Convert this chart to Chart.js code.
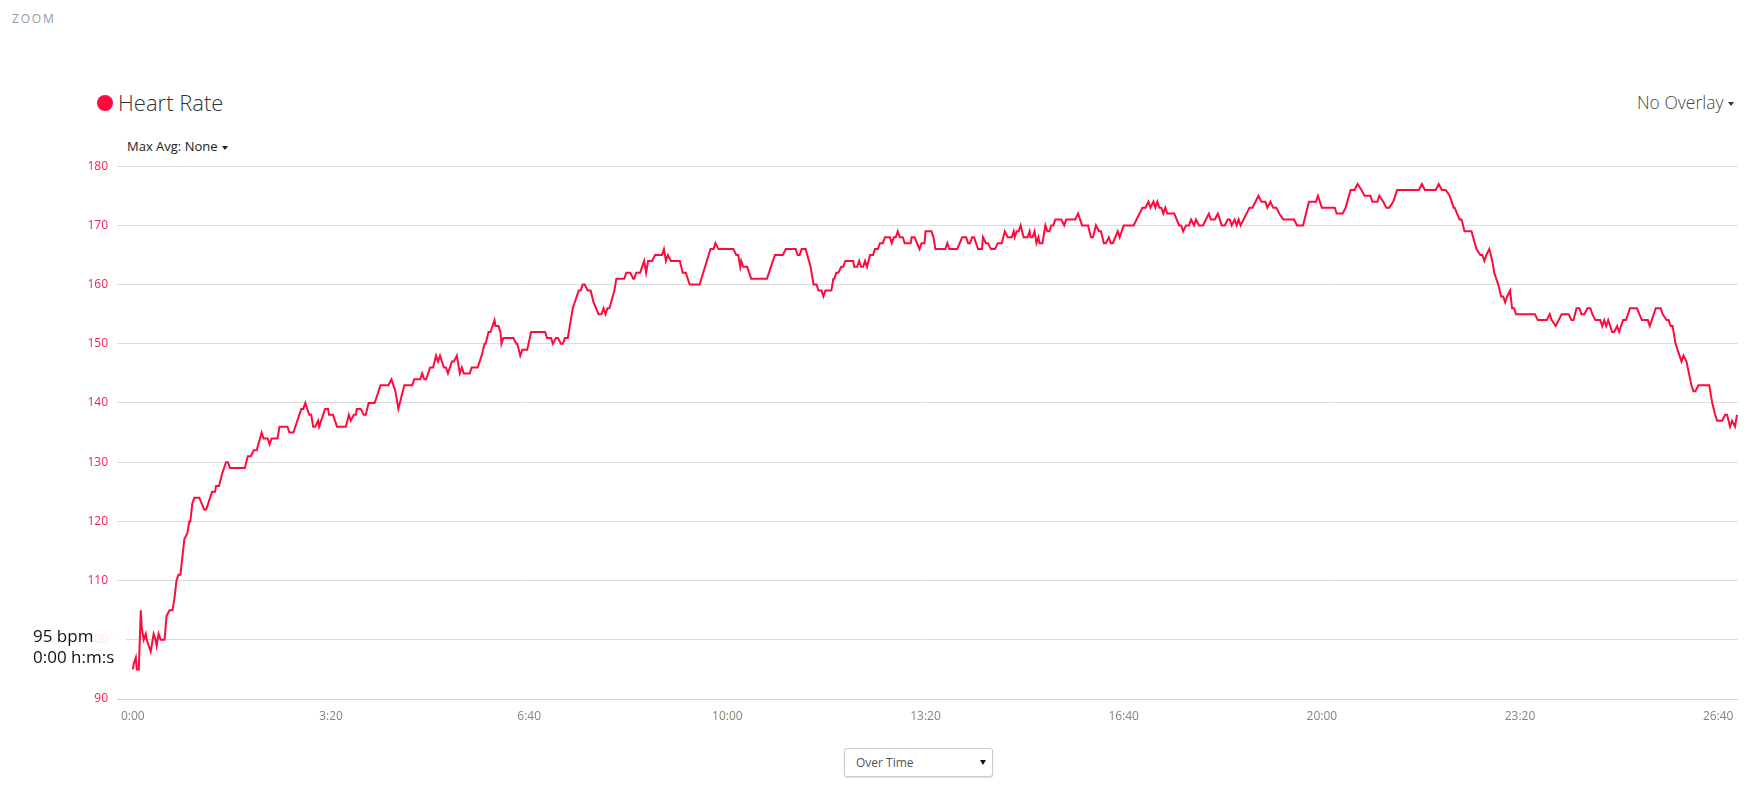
<!DOCTYPE html>
<html>
<head>
<meta charset="utf-8">
<script src="https://cdn.jsdelivr.net/npm/chart.js@4.4.1/dist/chart.umd.min.js"></script>
<style>
  body { margin: 0; background: #fff; font-family: 'Open Sans', sans-serif; }
  #page { position: relative; width: 1757px; height: 792px; overflow: hidden; }
  .abs { position: absolute; line-height: 1; white-space: nowrap; }
  #zoom { left: 12px; top: 13px; font-size: 12px; letter-spacing: 1.8px; color: #8f9caa; }
  #dot { left: 97px; top: 95px; width: 16px; height: 16px; border-radius: 50%; background: #ff0a3c; }
  #title { left: 118px; top: 91px; font-size: 22px; font-weight: 300; color: #333; }
  #maxavg { left: 127px; top: 140px; font-size: 13px; color: #222; }
  #overlay { left: 1637px; top: 94px; font-size: 17.5px; font-weight: 300; color: #444; }
  .caret { display: inline-block; width: 0; height: 0; border-left: 3px solid transparent;
           border-right: 3px solid transparent; border-top: 4px solid #222; vertical-align: middle; margin-left: 4px; }
  #select { left: 844px; top: 748px; width: 147px; height: 27px; border: 1px solid #ccc; border-radius: 3px;
            box-shadow: 0 1px 2px rgba(0,0,0,0.12); background: #fff; }
  #select span { position: absolute; left: 11px; top: 8px; font-size: 12px; line-height: 1; color: #555; }
  #select i { position: absolute; left: 135px; top: 11px; width: 0; height: 0; border-left: 3px solid transparent;
              border-right: 3px solid transparent; border-top: 5px solid #111; }
  #chart { position: absolute; left: 0; top: 150px; }
  #tip { left: 22px; top: 620px; width: 104px; height: 60px; background: rgba(255,255,255,0.88); }
  #tip div { position: absolute; left: 11px; font-size: 17px; line-height: 1; color: #111; }
</style>
</head>
<body>
<div id="page">
  <div class="abs" id="zoom">ZOOM</div>
  <div class="abs" id="dot"></div>
  <div class="abs" id="title">Heart Rate</div>
  <div class="abs" id="maxavg">Max Avg: None<span class="caret"></span></div>
  <div class="abs" id="overlay">No Overlay<span class="caret" style="border-top-color:#333"></span></div>
  <canvas id="chart" width="1757" height="590"></canvas>
  <div class="abs" id="tip"><div style="top:7px">95 bpm</div><div style="top:28px">0:00 h:m:s</div></div>
  <div class="abs" id="select"><span>Over Time</span><i></i></div>
</div>
<script>
// 경과 시간(초)과 심박수(bpm)
const seconds = [
  0, 1, 3, 4, 6, 8, 9, 11, 13, 14, 16, 18, 19, 21, 23, 24, 26, 28, 32, 34, 37, 40, 42, 44, 46,
  48, 52, 55, 57, 58, 60, 62, 67, 72, 74, 80, 83, 84, 87, 90, 94, 96, 98, 113, 116, 119, 122, 125,
  130, 132, 136, 138, 140, 146, 148, 156, 158, 162, 170, 172, 174, 178, 180, 182, 184, 187, 188,
  194, 197, 198, 202, 206, 215, 218, 220, 223, 225, 226, 230, 233, 235, 238, 244, 250, 258, 261,
  265, 268, 271, 274, 282, 284, 290, 292, 294, 296, 300, 303, 306, 308, 310, 314, 316, 318, 322,
  324, 327, 330, 332, 334, 340, 342, 348, 352, 355, 356, 359, 361, 365, 366, 369, 371, 372, 374,
  384, 387, 388, 391, 393, 398, 402, 416, 418, 422, 424, 427, 429, 432, 434, 436, 439, 442, 444,
  450, 452,
  454, 456, 459, 462, 465, 470, 473, 475, 477, 479, 481, 486, 488, 496, 498, 502, 505, 506, 508,
  512, 516, 518, 520, 524, 527, 534, 536, 538, 540, 543, 552, 555, 558, 562, 572, 583, 586, 588,
  591, 606, 609, 611, 613, 614, 616, 620, 624, 640, 648, 656, 659, 669, 671, 673, 675, 679, 684,
  687, 690, 692, 695, 697, 699, 705, 707, 708, 710, 712, 715, 717, 719, 727, 728, 731, 733, 735,
  737, 739, 741, 744, 747, 749, 752, 754, 757, 759, 764, 766, 768, 770, 772, 774, 777, 779, 785,
  786, 789, 794, 796, 799, 800, 806, 808, 810, 820, 822, 824, 832, 837, 841, 843, 845, 847, 849,
  853, 857, 858, 861, 863, 866, 870, 873, 877, 880, 883, 887, 889, 890, 892, 894, 896, 899, 903,
  905, 906, 908, 910, 912, 914, 915, 918, 921, 923, 925, 927, 929, 931,
  934, 937, 940, 942, 951, 954, 958, 964, 967, 969, 972, 975, 977, 980, 982, 985, 987, 989, 994,
  996, 1000, 1010, 1013, 1016, 1019, 1022, 1025, 1027, 1030, 1032, 1034, 1036, 1038, 1040, 1042,
  1044, 1051, 1056, 1058, 1060, 1063, 1066, 1068, 1071, 1073, 1076, 1080, 1083, 1086, 1088, 1092,
  1095, 1099, 1102, 1105, 1107, 1109, 1112, 1114, 1116, 1118, 1121, 1127, 1130, 1136, 1139, 1143,
  1145, 1148, 1151, 1154, 1157, 1161, 1172, 1175, 1181, 1184, 1187, 1194, 1196, 1200, 1213, 1215,
  1221, 1224, 1229, 1233, 1236, 1240, 1243, 1249, 1251, 1256, 1258, 1262, 1265, 1268, 1272, 1276,
  1298, 1301, 1304, 1315, 1318, 1321, 1325, 1329, 1333, 1334, 1339, 1341, 1344, 1351, 1356, 1360,
  1362, 1364, 1366, 1369, 1372, 1374, 1378, 1381, 1383, 1385, 1387, 1390, 1392, 1394, 1396, 1415,
  1418, 1427, 1430, 1432, 1436, 1439, 1442, 1449, 1452, 1454, 1457, 1460, 1462, 1465, 1468, 1471,
  1473, 1476, 1481, 1483, 1485, 1487, 1489, 1493, 1495, 1498, 1500, 1502, 1504, 1507, 1511, 1518,
  1523, 1529, 1531, 1537, 1542, 1544, 1548, 1550, 1552, 1554, 1557, 1561, 1563, 1565, 1568, 1573,
  1575, 1577, 1580, 1591, 1593, 1594, 1597, 1599, 1604, 1607, 1609, 1612, 1614, 1617, 1619
];
const bpm = [
  95, 96, 97, 95, 95, 105, 102, 100, 101, 100, 99, 98, 99, 101, 100, 99, 101, 100, 100, 104, 105, 105, 107, 110, 111,
  111, 117, 118, 120, 120, 123, 124, 124, 122, 122, 125, 125, 126, 126, 128, 130, 130, 129, 129, 131, 131, 132, 132,
  135, 134, 134, 133, 134, 134, 136, 136, 135, 135, 139, 139, 140, 138, 138, 136, 136, 137, 136,
  139, 139, 138, 138, 136, 136, 138, 137, 138, 138, 139, 139, 138, 138, 140, 140, 143, 143, 144,
  142, 139, 141, 143, 143, 144, 144, 145, 144, 144, 146, 146, 148, 147, 148, 146, 146, 145, 147,
  147, 148, 145, 146, 145, 145, 146, 146, 148, 150, 150, 152, 152, 154, 153, 153, 152, 150, 151,
  151, 150, 150, 148, 149, 149, 152, 152, 151, 151, 150, 151, 151, 150, 150, 151, 151, 154, 156,
  159, 159,
  160, 160, 159, 159, 157, 155, 155, 156, 155, 156, 156, 159, 161, 161, 162, 162, 161, 161, 162,
  162, 164, 162, 164, 164, 165, 165, 166, 164, 165, 164, 164, 162, 162, 160, 160, 166, 166, 167,
  166, 166, 165, 165, 163, 164, 163, 163, 161, 161, 165, 165, 166, 166, 165, 165, 166, 166, 163,
  160, 160, 159, 159, 158, 159, 159, 161, 161, 162, 162, 163, 163, 164, 164, 163, 163, 164, 163,
  163, 164, 163, 165, 165, 166, 166, 167, 167, 168, 168, 167, 168, 168, 169, 168, 168, 167, 167,
  168, 168, 166, 167, 167, 169, 169, 168, 166, 166, 167, 166, 166, 168, 168, 167, 167, 168, 168,
  166, 166, 168, 167, 167, 166, 166, 167, 167, 169, 168, 168, 169, 168, 169, 169, 170, 168, 168,
  169, 168, 168, 169, 167, 168, 167, 167, 170, 169, 169, 170, 170, 171,
  171, 171, 170, 171, 171, 172, 170, 170, 168, 168, 170, 169, 169, 167, 167, 168, 167, 167, 169,
  168, 170, 170, 171, 172, 173, 173, 174, 173, 174, 173, 174, 173, 173, 172, 173,
  172, 172, 170, 170, 169, 170, 170, 171, 170, 171, 170, 170, 171, 172, 171, 171,
  172, 170, 170, 171, 171, 170, 171, 170, 171, 170, 171, 173, 173, 175, 174, 174,
  173, 174, 173, 173, 172, 171, 171, 170, 170, 172, 174, 174, 175, 173, 173, 172,
  172, 173, 176, 176, 177, 176, 175, 175, 174, 174, 175, 174, 173, 173, 174, 176,
  176, 177, 176, 176, 177, 176, 176, 175, 173, 173, 171, 171, 169, 169, 166, 165,
  165, 164, 165, 166, 164, 162, 160, 158, 158, 157, 158, 159, 156, 156, 155, 155,
  154, 154, 155, 154, 153, 154, 155, 155, 154, 154, 156, 156, 155, 155, 156, 156,
  155, 154, 154, 153, 154, 153, 154, 152, 152, 153, 152, 153, 154, 154, 156, 156,
  154, 154, 153, 156, 156, 155, 154, 154, 153, 153, 150, 148, 147, 148, 147, 143,
  142, 142, 143, 143, 141, 140, 138, 137, 137, 138, 138, 136, 137, 136, 138
];
const xTicks = [0, 200, 400, 600, 800, 1000, 1200, 1400, 1600];
const yTicks = [90, 100, 110, 120, 130, 140, 150, 160, 170, 180];

function mss(s) {
  const m = Math.floor(s / 60), r = s % 60;
  return m + ':' + (r < 10 ? '0' : '') + r;
}

Chart.defaults.font.family = "'Open Sans', sans-serif";

const ctx = document.getElementById('chart').getContext('2d');
new Chart(ctx, {
  type: 'line',
  data: {
    datasets: [{
      label: 'Heart Rate',
      data: seconds.map((s, i) => ({ x: s, y: bpm[i] })),
      borderColor: '#ff0a3c',
      borderWidth: 2,
      pointRadius: 0,
      tension: 0,
      fill: false
    }]
  },
  options: {
    responsive: false,
    animation: false,
    layout: { padding: { top: 16, right: 19, left: 0, bottom: 0 } },
    plugins: { legend: { display: false }, tooltip: { enabled: false } },
    scales: {
      x: {
        type: 'linear',
        min: -16,
        max: 1620,
        afterBuildTicks: s => { s.ticks = xTicks.map(v => ({ value: v })); },
        afterFit: s => { s.height = 41; },
        grid: { display: false },
        border: { display: false },
        ticks: {
          padding: 2,
          maxRotation: 0,
          font: { size: 12 },
          color: '#8a8277',
          callback: v => mss(v)
        }
      },
      y: {
        min: 90,
        max: 180,
        afterBuildTicks: s => { s.ticks = yTicks.map(v => ({ value: v })); },
        afterFit: s => { s.width = 117; },
        border: { display: false },
        grid: {
          drawTicks: false,
          color: c => c.tick && c.tick.value === 90 ? '#c5d4e3' : '#dcdcdc'
        },
        ticks: { padding: 9, font: { size: 12 }, color: '#ea2456' }
      }
    }
  }
});
</script>
</body>
</html>
